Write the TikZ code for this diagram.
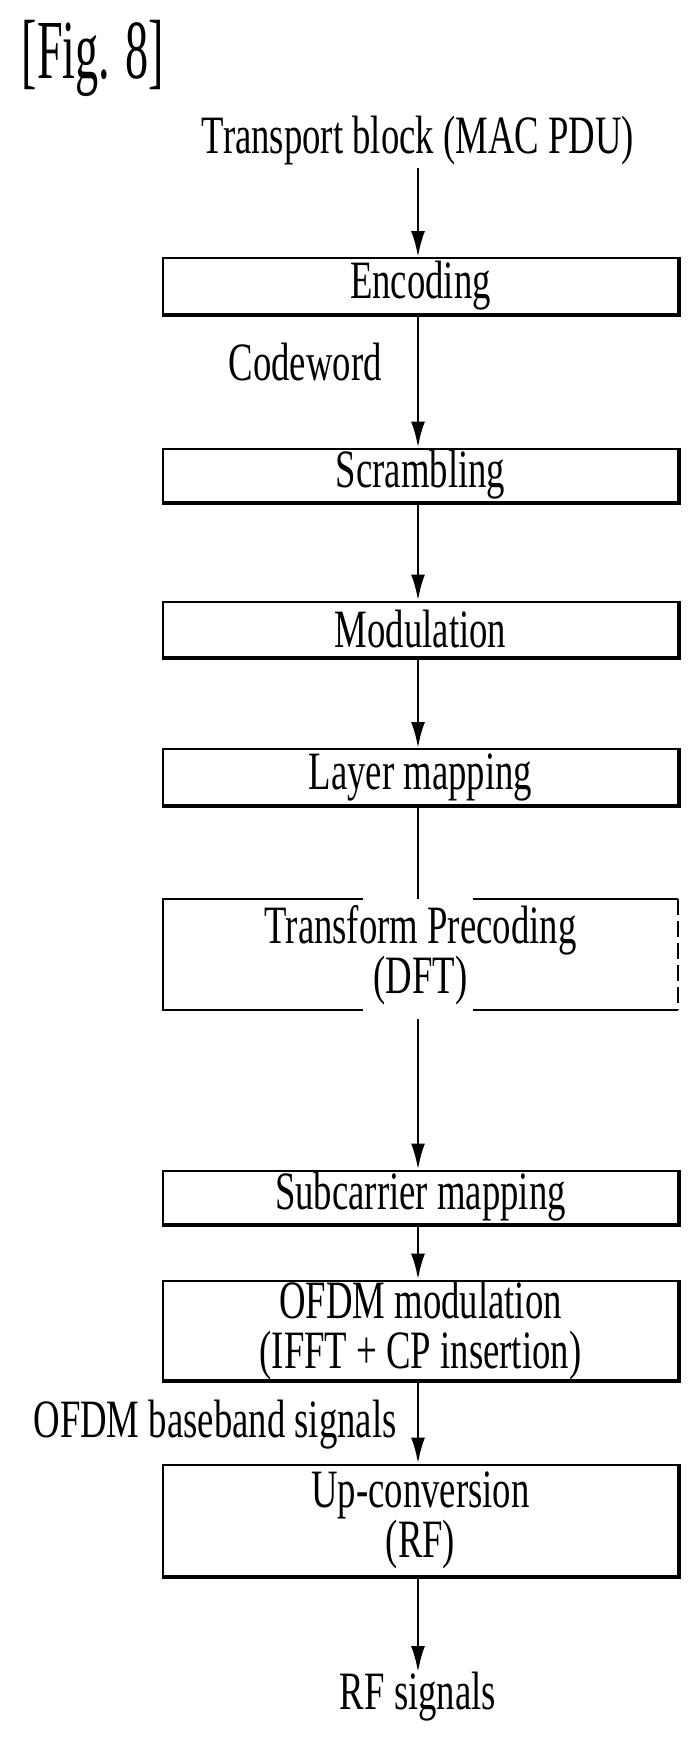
\documentclass[tikz,border=0pt]{standalone}
\usepackage{fontspec}
\setmainfont[FakeStretch=0.68]{Liberation Serif}
\newfontfamily\figfont[FakeStretch=0.55]{Liberation Serif}
\usetikzlibrary{arrows.meta,positioning}

\tikzset{
  block/.style={draw, line width=1pt, minimum width=257.5pt, align=center,
    inner sep=0pt},
  lbl/.style={inner sep=0pt, align=center},
  flow/.style={-{Latex[length=13pt,width=7pt]}, line width=1.3pt},
}

\begin{document}
\begin{tikzpicture}[x=0.5pt, y=-0.5pt, font=\fontsize{27}{25}\selectfont]
\useasboundingbox (0,0) rectangle (697,1745);

\node [lbl, font=\figfont\fontsize{42}{42}\selectfont] (fig) at (93,58) {[Fig. 8]};

\node [lbl] (tb) at (418,141) {Transport block (MAC PDU)};
\node [block, minimum height=28pt] (enc) at (420.5,286) {Encoding};
\node [block, minimum height=26.5pt] (scr) at (420.5,475) {Scrambling};
\node [block, minimum height=27.5pt] (mod) at (420.5,629) {Modulation};
\node [block, minimum height=28pt] (lay) at (420.5,777) {Layer mapping};
\node [lbl, minimum width=257.5pt, minimum height=55.5pt] (tp) at (420.5,955)
  {Transform Precoding\\(DFT)};
\node [block, minimum height=26.5pt] (sub) at (420.5,1197) {Subcarrier mapping};
\node [block, minimum height=43.5pt] (ofdm) at (420.5,1330)
  {OFDM modulation\\(IFFT + CP insertion)};
\node [block, minimum height=55.5pt] (up) at (420.5,1520) {Up-conversion\\(RF)};
\node [lbl] (rf) at (418,1697) {RF signals};

\node [lbl, anchor=east] (cw) at (382,362) {Codeword};
\node [lbl, anchor=east] (bb) at (397,1425) {OFDM baseband signals};

% heavier lower and right edges
\foreach \b in {enc,scr,mod,lay,sub,ofdm,up}
  \draw [line width=2pt] (\b.south west) -- (\b.south east) -- (\b.north east);

% broken outline of the precoding box
\draw [line width=1pt] (363,899) -| (163,1010) -- (363,1010);
\draw [line width=1pt] (473,899) -- (678,899);
\draw [line width=1pt] (473,1010) -- (678,1010);
\draw [line width=1pt, dash pattern=on 8pt off 3pt] (678,899) -- (678,1010);

\coordinate (tp-in) at (tp.north);
\coordinate (tp-out) at ([yshift=-4pt]tp.south);

\draw [flow] (418,168) -- (enc.north -| 418,0);
\draw [flow] (enc.south -| 418,0) -- (scr.north -| 418,0);
\draw [flow] (scr.south -| 418,0) -- (mod.north -| 418,0);
\draw [flow] (mod.south -| 418,0) -- (lay.north -| 418,0);
\draw [line width=1.3pt] (lay.south -| 418,0) -- (tp-in -| 418,0);
\draw [flow] (tp-out -| 418,0) -- (sub.north -| 418,0);
\draw [flow] (sub.south -| 418,0) -- (ofdm.north -| 418,0);
\draw [flow] (ofdm.south -| 418,0) -- (up.north -| 418,0);
\draw [flow] (up.south -| 418,0) -- (rf.north -| 418,0);

\end{tikzpicture}
\end{document}
